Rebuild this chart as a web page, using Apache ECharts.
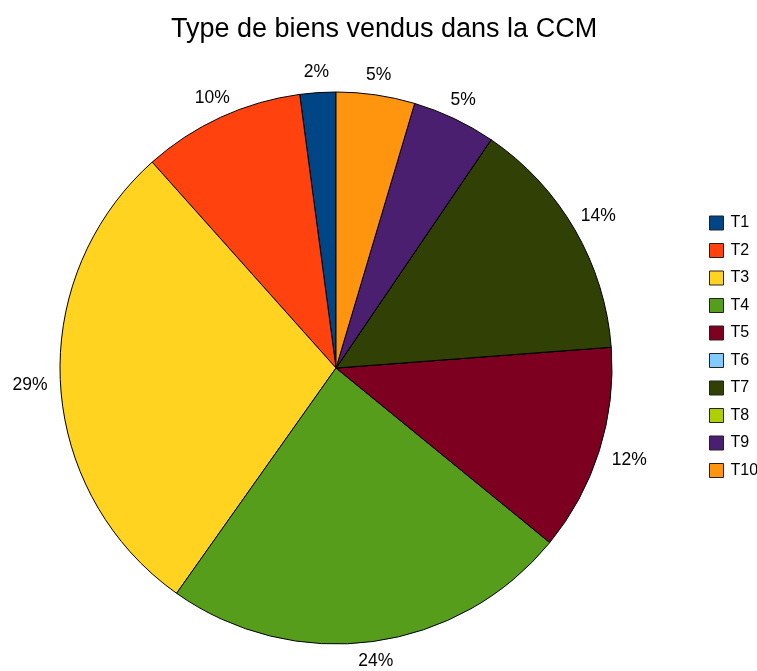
<!DOCTYPE html>
<html>
<head>
<meta charset="utf-8">
<script src="https://cdn.jsdelivr.net/npm/echarts@6/dist/echarts.min.js"></script>
<style>
  html, body { margin: 0; padding: 0; background: #fff; }
  #chart { width: 757px; height: 671px; }
</style>
</head>
<body>
<div id="chart"></div>
<script>
// types de biens et parts
const categories = ['T1', 'T2', 'T3', 'T4', 'T5', 'T6', 'T7', 'T8', 'T9', 'T10'];
const values = [2.1, 9.5, 28.6, 23.9, 12.1, 0, 14.3, 0, 4.9, 4.6];
const colors = ['#004586', '#ff420e', '#ffd320', '#579d1c', '#7e0021',
  '#83caff', '#314004', '#aecf00', '#4b1f6f', '#ff950e'];

const myechart = echarts.init(document.getElementById('chart'));

// place les pourcentages dans l'axe du secteur, centrés, juste hors du disque
function placeLabel(p) {
  const lay = myechart.getModel().getSeriesByIndex(0).getData().getItemLayout(p.dataIndex);
  const mid = (lay.startAngle + lay.endAngle) / 2;
  const ux = Math.cos(mid), uy = Math.sin(mid);
  const hw = p.labelRect.width / 2, hh = 7;
  const ext = Math.min(
    Math.abs(ux) > 1e-6 ? hw / Math.abs(ux) : 1e9,
    Math.abs(uy) > 1e-6 ? hh / Math.abs(uy) : 1e9
  );
  const d = lay.r + 13 + ext;
  return { x: lay.cx + d * ux, y: lay.cy + d * uy, align: 'center', verticalAlign: 'middle' };
}

const option = {
  animation: false,
  color: colors,
  title: {
    text: 'Type de biens vendus dans la CCM',
    left: 379,
    textAlign: 'center',
    top: 11,
    textStyle: {
      fontFamily: 'Liberation Sans',
      fontWeight: 'normal',
      fontSize: 27,
      color: '#000'
    }
  },
  legend: {
    orient: 'vertical',
    left: 704,
    top: 210,
    icon: 'rect',
    itemWidth: 14,
    itemHeight: 14,
    itemGap: 11.5,
    selectedMode: false,
    itemStyle: { borderColor: '#222', borderWidth: 1 },
    textStyle: {
      fontFamily: 'Liberation Sans',
      fontSize: 16,
      lineHeight: 12,
      color: '#000',
      padding: [4, 0, 0, 2]
    },
    data: categories
  },
  series: [{
    type: 'pie',
    center: [336, 368],
    radius: 276,
    startAngle: 90,
    clockwise: false,
    avoidLabelOverlap: false,
    stillShowZeroSum: true,
    itemStyle: { borderColor: '#000', borderWidth: 1 },
    emphasis: { disabled: true },
    label: {
      show: true,
      position: 'outside',
      fontFamily: 'Liberation Sans',
      fontSize: 17.5,
      color: '#000',
      formatter: function (p) {
        return p.value > 0 ? Math.round(p.percent) + '%' : '';
      }
    },
    labelLine: { show: false, length: 0, length2: 0 },
    labelLayout: placeLabel,
    data: categories.map((c, i) => ({ name: c, value: values[i] }))
  }]
};
myechart.setOption(option);
</script>
</body>
</html>
